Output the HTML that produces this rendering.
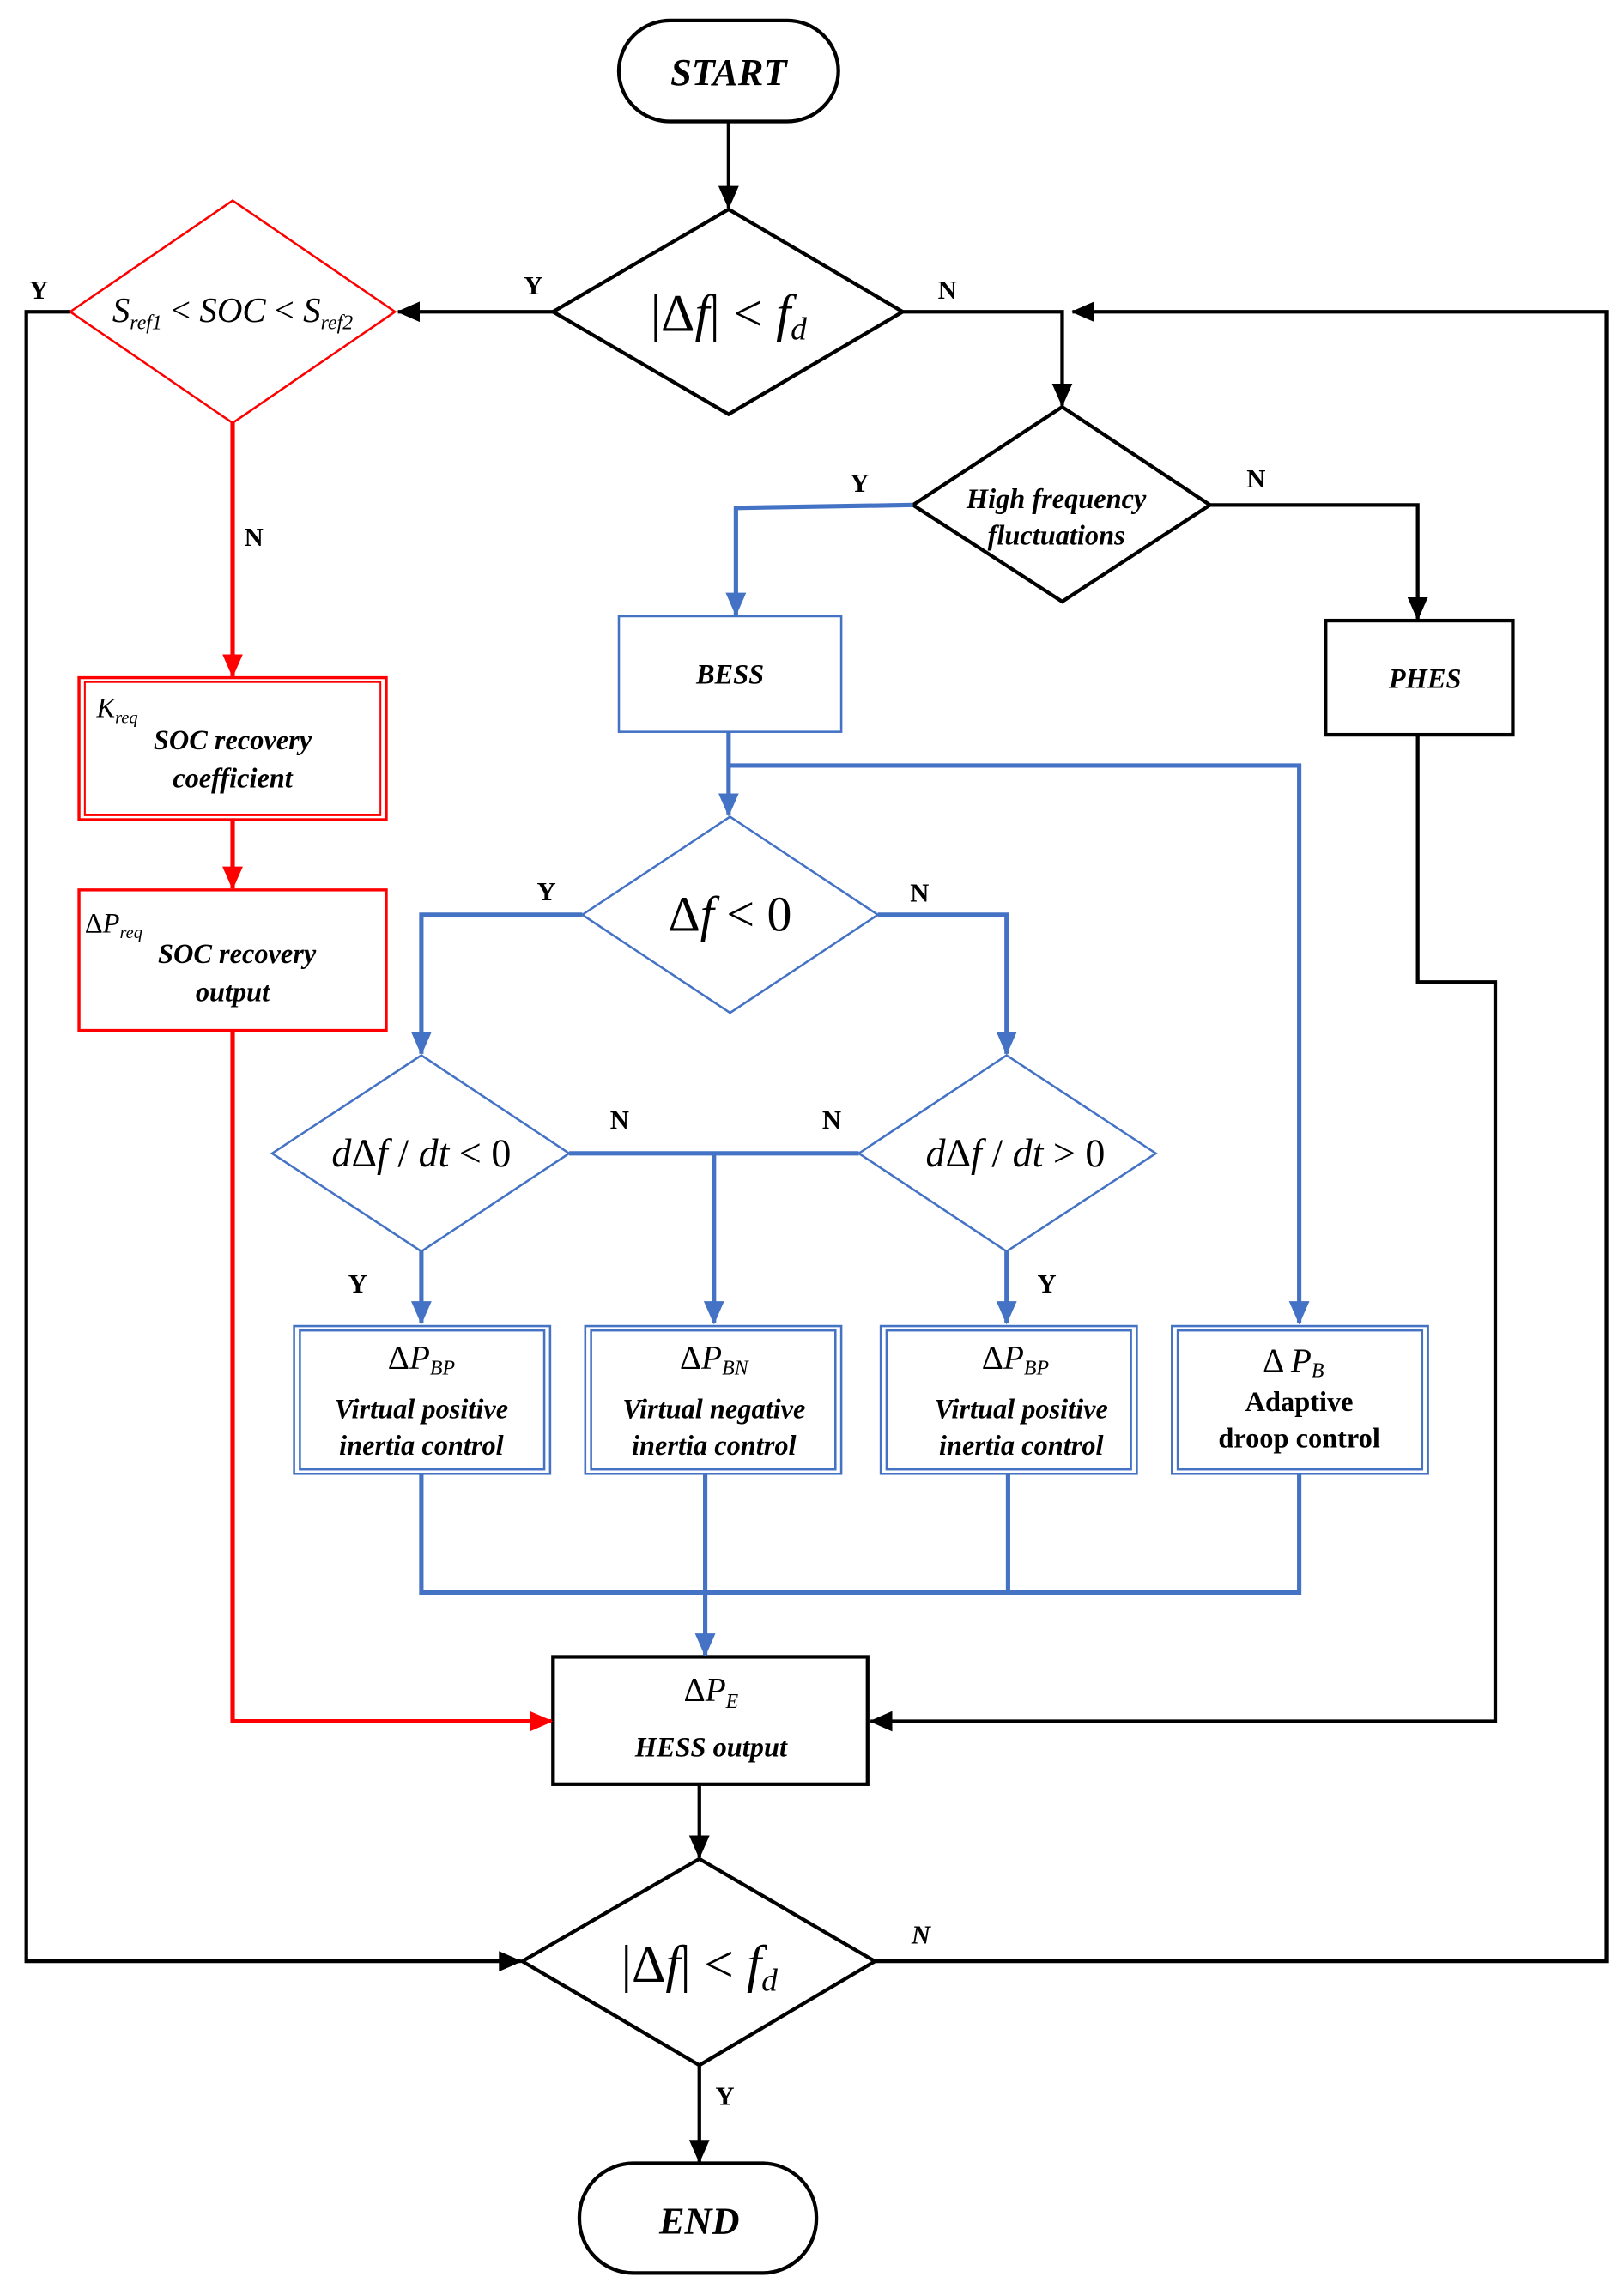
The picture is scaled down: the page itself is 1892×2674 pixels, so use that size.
<!DOCTYPE html>
<html><head><meta charset="utf-8"><style>
html,body{margin:0;padding:0;background:#fff}
svg{display:block}
text{font-family:"Liberation Serif",serif}
.bi{font-weight:bold;font-style:italic}
.m{font-style:italic}
</style></head><body>
<svg width="1892" height="2674" viewBox="0 0 1110 1568" preserveAspectRatio="none" xmlns="http://www.w3.org/2000/svg">
<defs>
<marker id="ak" markerWidth="16" markerHeight="16" refX="15" refY="8" orient="auto" markerUnits="userSpaceOnUse"><path d="M0,1 L16,8 L0,15 z" fill="#000"/></marker>
<marker id="ab" markerWidth="16" markerHeight="16" refX="15" refY="8" orient="auto" markerUnits="userSpaceOnUse"><path d="M0,1 L16,8 L0,15 z" fill="#4472c4"/></marker>
<marker id="ar" markerWidth="16" markerHeight="16" refX="15" refY="8" orient="auto" markerUnits="userSpaceOnUse"><path d="M0,1 L16,8 L0,15 z" fill="#f00"/></marker>
</defs>
<g fill="none" stroke-width="2">
<g stroke="#000" stroke-width="2.5">
<rect x="423" y="14" width="150" height="69" rx="35" fill="#fff"/>
<line x1="498" y1="83" x2="498" y2="142" marker-end="url(#ak)"/>
<polygon points="498,143 617,213 498,283 378,213"/>
<line x1="378" y1="213" x2="272" y2="213" marker-end="url(#ak)"/>
<polyline points="617,213 726,213 726,277" marker-end="url(#ak)"/>
<polyline points="598,1340 1098,1340 1098,213 733,213" marker-end="url(#ak)"/>
<polyline points="48,213 18,213 18,1340 356,1340" marker-end="url(#ak)"/>
<polygon points="726,278 827,345 726,411 624,345"/>
<polyline points="827,345 969,345 969,423" marker-end="url(#ak)"/>
<rect x="906" y="424" width="128" height="78"/>
<polyline points="969,502 969,671 1022,671 1022,1176 595,1176" marker-end="url(#ak)"/>
<rect x="378" y="1132" width="215" height="87"/>
<line x1="478" y1="1219" x2="478" y2="1269" marker-end="url(#ak)"/>
<polygon points="478,1270 598,1340 478,1411 357,1340"/>
<line x1="478" y1="1411" x2="478" y2="1477" marker-end="url(#ak)"/>
<rect x="396" y="1478" width="162" height="75" rx="37"/>
</g>
<g stroke="#f00">
<polygon points="159,137 270,213 159,289 48,213" stroke-width="1.5"/>
<line x1="159" y1="289" x2="159" y2="462" stroke-width="3" marker-end="url(#ar)"/>
<rect x="54" y="463" width="210" height="97" stroke-width="2"/>
<rect x="58" y="466" width="202" height="91" stroke-width="1.2"/>
<line x1="159" y1="560" x2="159" y2="607" stroke-width="3" marker-end="url(#ar)"/>
<rect x="54" y="608" width="210" height="96" stroke-width="2"/>
<polyline points="159,704 159,1176 377,1176" stroke-width="3" marker-end="url(#ar)"/>
</g>
<g stroke="#4472c4">
<polyline points="624,345 503,347 503,420" stroke-width="3" marker-end="url(#ab)"/>
<rect x="423" y="421" width="152" height="79" stroke-width="1.5"/>
<line x1="498" y1="500" x2="498" y2="557" stroke-width="3" marker-end="url(#ab)"/>
<polyline points="498,523 888,523 888,904" stroke-width="3" marker-end="url(#ab)"/>
<polygon points="499,558 600,625 499,692 398,625" stroke-width="1.5"/>
<polyline points="398,625 288,625 288,720" stroke-width="3" marker-end="url(#ab)"/>
<polyline points="600,625 688,625 688,720" stroke-width="3" marker-end="url(#ab)"/>
<polygon points="288,721 389,788 288,855 186,788" stroke-width="1.5"/>
<polygon points="688,721 790,788 688,855 587,788" stroke-width="1.5"/>
<line x1="389" y1="788" x2="587" y2="788" stroke-width="3"/>
<line x1="488" y1="788" x2="488" y2="904" stroke-width="3" marker-end="url(#ab)"/>
<line x1="288" y1="855" x2="288" y2="904" stroke-width="3" marker-end="url(#ab)"/>
<line x1="688" y1="855" x2="688" y2="904" stroke-width="3" marker-end="url(#ab)"/>
<g stroke-width="1.5">
<rect x="201" y="906" width="175" height="101"/><rect x="205" y="909" width="167" height="95"/>
<rect x="400" y="906" width="175" height="101"/><rect x="404" y="909" width="167" height="95"/>
<rect x="602" y="906" width="175" height="101"/><rect x="606" y="909" width="167" height="95"/>
<rect x="801" y="906" width="175" height="101"/><rect x="805" y="909" width="167" height="95"/>
</g>
<polyline points="288,1007 288,1088 888,1088 888,1007" stroke-width="3"/>
<line x1="689" y1="1007" x2="689" y2="1088" stroke-width="3"/>
<line x1="482" y1="1007" x2="482" y2="1131" stroke-width="3" marker-end="url(#ab)"/>
</g>
</g>
<g fill="#000">
<text x="498" y="58" class="bi" font-size="26" text-anchor="middle">START</text>
<text x="478" y="1526" class="bi" font-size="26" text-anchor="middle">END</text>
<text x="498" y="226" font-size="36" text-anchor="middle"><tspan>|Δ</tspan><tspan class="m">f</tspan><tspan>| &lt; </tspan><tspan class="m">f</tspan><tspan class="m" font-size="22" dy="6">d</tspan></text>
<text x="478" y="1354" font-size="36" text-anchor="middle"><tspan>|Δ</tspan><tspan class="m">f</tspan><tspan>| &lt; </tspan><tspan class="m">f</tspan><tspan class="m" font-size="22" dy="6">d</tspan></text>
<text x="159" y="220" font-size="24" text-anchor="middle" class="m"><tspan>S</tspan><tspan font-size="14" dy="5">ref1</tspan><tspan dy="-5" font-style="normal"> &lt; </tspan><tspan>SOC</tspan><tspan font-style="normal"> &lt; </tspan><tspan>S</tspan><tspan font-size="14" dy="5">ref2</tspan></text>
<text x="722" y="347" class="bi" font-size="19" text-anchor="middle">High frequency</text>
<text x="722" y="372" class="bi" font-size="19" text-anchor="middle">fluctuations</text>
<text x="499" y="467" class="bi" font-size="19" text-anchor="middle">BESS</text>
<text x="974" y="470" class="bi" font-size="19" text-anchor="middle">PHES</text>
<text x="499" y="636" font-size="34" text-anchor="middle"><tspan>Δ</tspan><tspan class="m">f</tspan><tspan> &lt; 0</tspan></text>
<text x="288" y="797" font-size="27" text-anchor="middle" class="m"><tspan>d</tspan><tspan font-style="normal">Δ</tspan><tspan>f</tspan><tspan font-style="normal"> / </tspan><tspan>dt</tspan><tspan font-style="normal"> &lt; 0</tspan></text>
<text x="694" y="797" font-size="27" text-anchor="middle" class="m"><tspan>d</tspan><tspan font-style="normal">Δ</tspan><tspan>f</tspan><tspan font-style="normal"> / </tspan><tspan>dt</tspan><tspan font-style="normal"> &gt; 0</tspan></text>
<text x="66" y="490" font-size="19" class="m">K<tspan font-size="12" dy="4">req</tspan></text>
<text x="159" y="512" class="bi" font-size="19" text-anchor="middle">SOC recovery</text>
<text x="159" y="538" class="bi" font-size="19" text-anchor="middle">coefficient</text>
<text x="58" y="637" font-size="19"><tspan>Δ</tspan><tspan class="m">P</tspan><tspan class="m" font-size="12" dy="4">req</tspan></text>
<text x="162" y="658" class="bi" font-size="19" text-anchor="middle">SOC recovery</text>
<text x="159" y="684" class="bi" font-size="19" text-anchor="middle">output</text>
<text x="288" y="935" font-size="23" text-anchor="middle"><tspan>Δ</tspan><tspan class="m">P</tspan><tspan class="m" font-size="14" dy="4">BP</tspan></text>
<text x="288" y="969" class="bi" font-size="19" text-anchor="middle">Virtual positive</text>
<text x="288" y="994" class="bi" font-size="19" text-anchor="middle">inertia control</text>
<text x="488" y="935" font-size="23" text-anchor="middle"><tspan>Δ</tspan><tspan class="m">P</tspan><tspan class="m" font-size="14" dy="4">BN</tspan></text>
<text x="488" y="969" class="bi" font-size="19" text-anchor="middle">Virtual negative</text>
<text x="488" y="994" class="bi" font-size="19" text-anchor="middle">inertia control</text>
<text x="694" y="935" font-size="23" text-anchor="middle"><tspan>Δ</tspan><tspan class="m">P</tspan><tspan class="m" font-size="14" dy="4">BP</tspan></text>
<text x="698" y="969" class="bi" font-size="19" text-anchor="middle">Virtual positive</text>
<text x="698" y="994" class="bi" font-size="19" text-anchor="middle">inertia control</text>
<text x="884" y="937" font-size="23" text-anchor="middle"><tspan>Δ </tspan><tspan class="m">P</tspan><tspan class="m" font-size="14" dy="4">B</tspan></text>
<text x="888" y="964" font-weight="bold" font-size="19" text-anchor="middle">Adaptive</text>
<text x="888" y="989" font-weight="bold" font-size="19" text-anchor="middle">droop control</text>
<text x="486" y="1162" font-size="23" text-anchor="middle"><tspan>Δ</tspan><tspan class="m">P</tspan><tspan class="m" font-size="14" dy="5">E</tspan></text>
<text x="486" y="1200" class="bi" font-size="19" text-anchor="middle">HESS output</text>
<g font-weight="bold" font-size="18">
<text x="358" y="201">Y</text><text x="20" y="204">Y</text><text x="641" y="204">N</text>
<text x="167" y="373">N</text><text x="581" y="336">Y</text><text x="852" y="333">N</text>
<text x="367" y="615">Y</text><text x="622" y="616">N</text>
<text x="417" y="771">N</text><text x="562" y="771">N</text>
<text x="238" y="883">Y</text><text x="709" y="883">Y</text>
<text x="489" y="1438">Y</text>
<text x="623" y="1328" font-style="italic">N</text>
</g>
</g>
</svg>
</body></html>
